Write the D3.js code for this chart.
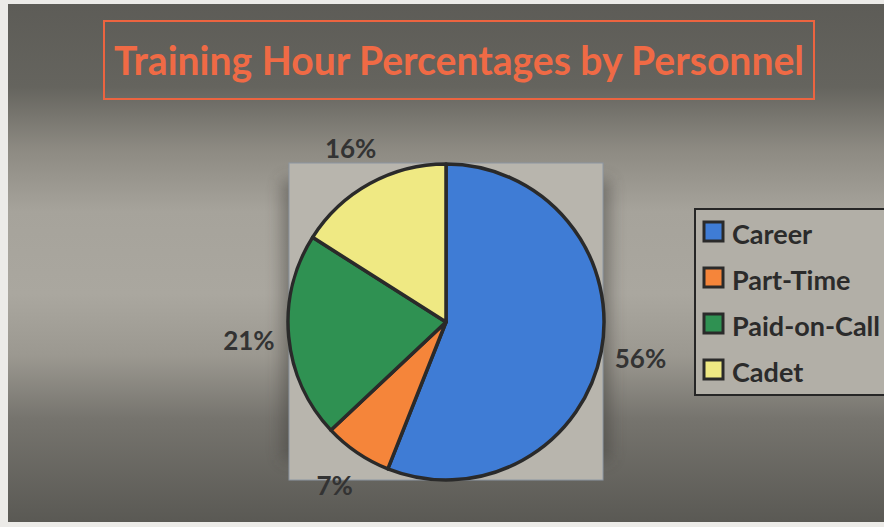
<!DOCTYPE html>
<html>
<head>
<meta charset="utf-8">
<script src="https://cdn.jsdelivr.net/npm/d3@7"></script>
<style>
  body { margin: 0; background: #ecebe8; }
  svg { display: block; }
  text { font-family: Lato, "Open Sans", sans-serif; }
</style>
</head>
<body>
<svg width="884" height="527"></svg>
<script>
// data
const categories = ['Career', 'Part-Time', 'Paid-on-Call', 'Cadet'];
const values = [56, 7, 21, 16];
const colors = ['#3f7cd5', '#f5853a', '#2f9152', '#efe983'];
const title = 'Training Hour Percentages by Personnel';

const width = 884;
const height = 527;
const cx = 446;
const cy = 322;
const radius = 158;

const svg = d3.select('svg');
const defs = svg.append('defs');

const grad = defs.append('linearGradient')
  .attr('id', 'bg')
  .attr('x1', 0).attr('y1', 0).attr('x2', 0).attr('y2', 1);
[[0, '#5d5c57'], [0.16, '#65645e'], [0.28, '#8d8a82'], [0.4, '#a6a39b'],
 [0.56, '#aaa79f'], [0.68, '#9b9890'], [0.8, '#76746e'], [1, '#5a5954']]
  .forEach(([o, c]) => grad.append('stop').attr('offset', o).attr('stop-color', c));

const blur = defs.append('filter').attr('id', 'shadow')
  .attr('x', '-20%').attr('y', '-20%').attr('width', '140%').attr('height', '140%');
blur.append('feGaussianBlur').attr('stdDeviation', 8);

// chart background
svg.append('rect')
  .attr('x', 8).attr('y', 4)
  .attr('width', width - 8).attr('height', 518)
  .attr('fill', 'url(#bg)');

// title box
svg.append('rect')
  .attr('x', 104).attr('y', 21)
  .attr('width', 710).attr('height', 78)
  .attr('fill', 'none')
  .attr('stroke', '#ec6440')
  .attr('stroke-width', 2);

svg.append('text')
  .attr('x', 459).attr('y', 75)
  .attr('text-anchor', 'middle')
  .attr('font-size', 41)
  .attr('font-weight', 'bold')
  .attr('fill', '#f06a45')
  .attr('textLength', 690)
  .attr('lengthAdjust', 'spacingAndGlyphs')
  .text(title);

// plot area
svg.append('rect')
  .attr('x', 282).attr('y', 180)
  .attr('width', 328).attr('height', 280)
  .attr('fill', '#3a3935')
  .attr('opacity', 0.45)
  .attr('filter', 'url(#shadow)');
svg.append('rect')
  .attr('x', 289).attr('y', 163)
  .attr('width', 314).attr('height', 317)
  .attr('fill', '#b8b5ad')
  .attr('stroke', '#8c96a2')
  .attr('stroke-width', 1);

// pie
const pie = d3.pie().sort(null).value(d => d.value);
const arcs = pie(categories.map((c, i) => ({ name: c, value: values[i], color: colors[i] })));
const arc = d3.arc().innerRadius(0).outerRadius(radius);
const labelArc = d3.arc().innerRadius(radius + 40).outerRadius(radius + 40);

const g = svg.append('g').attr('transform', `translate(${cx},${cy})`);
g.selectAll('path')
  .data(arcs)
  .join('path')
  .attr('d', arc)
  .attr('fill', d => d.data.color)
  .attr('stroke', '#2a2a2a')
  .attr('stroke-width', 3.5)
  .attr('stroke-linejoin', 'round');

g.selectAll('text.lbl')
  .data(arcs)
  .join('text')
  .attr('class', 'lbl')
  .attr('transform', d => `translate(${labelArc.centroid(d)})`)
  .attr('text-anchor', 'middle')
  .attr('dy', '0.36em')
  .attr('font-size', 26)
  .attr('font-weight', 'bold')
  .attr('fill', '#333333')
  .text(d => d.data.value + '%');

// legend
const legend = svg.append('g').attr('transform', 'translate(695,209)');
legend.append('rect')
  .attr('width', 210).attr('height', 186)
  .attr('fill', '#b2afa7')
  .attr('stroke', '#262626')
  .attr('stroke-width', 2);

const item = legend.selectAll('g.item')
  .data(categories)
  .join('g')
  .attr('class', 'item')
  .attr('transform', (d, i) => `translate(0,${23 + i * 46})`);
item.append('rect')
  .attr('x', 9).attr('y', -10)
  .attr('width', 19).attr('height', 19)
  .attr('fill', (d, i) => colors[i])
  .attr('stroke', '#2a2a2a')
  .attr('stroke-width', 3);
item.append('text')
  .attr('x', 37).attr('y', 12)
  .attr('font-size', 27)
  .attr('font-weight', 'bold')
  .attr('fill', '#2b2b2b')
  .text(d => d);
</script>
</body>
</html>
